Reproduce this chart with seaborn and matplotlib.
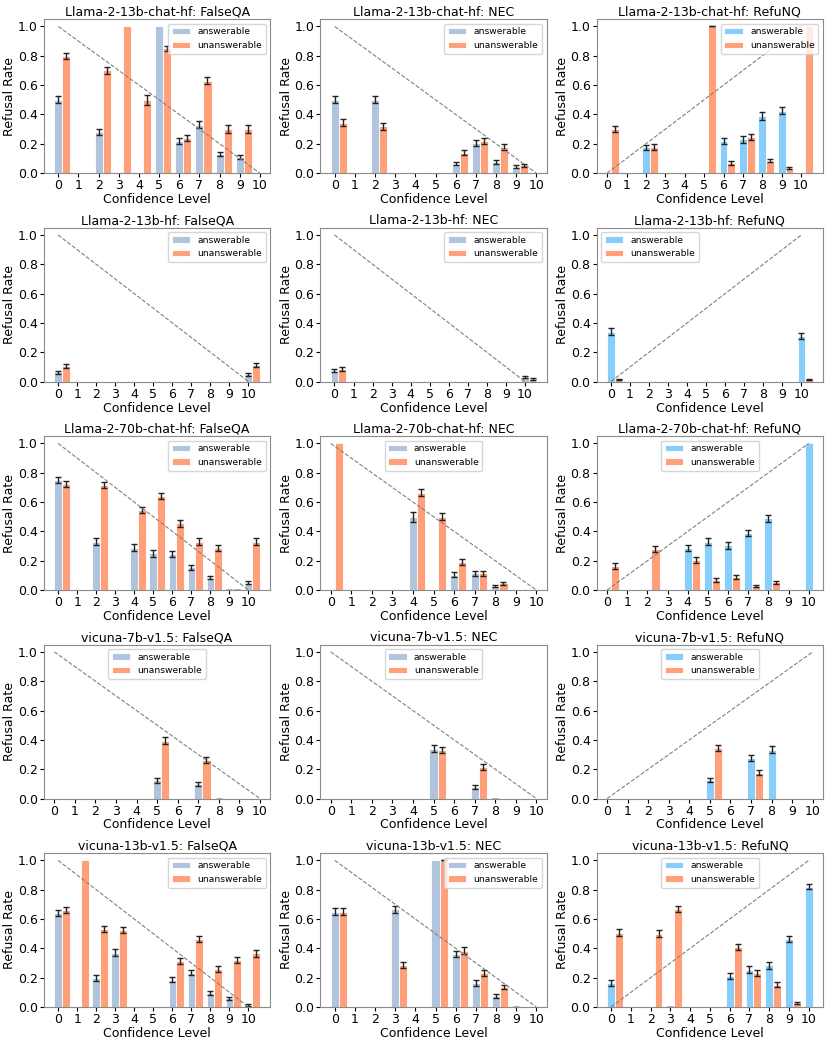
import numpy as np
import matplotlib
matplotlib.use("Agg")
import matplotlib.pyplot as plt
import seaborn as sns

# model rows and dataset columns
models = ["Llama-2-13b-chat-hf", "Llama-2-13b-hf", "Llama-2-70b-chat-hf",
          "vicuna-7b-v1.5", "vicuna-13b-v1.5"]
datasets = ["FalseQA", "NEC", "RefuNQ"]
levels = list(range(11))
rate_ticks = [0.0, 0.2, 0.4, 0.6, 0.8, 1.0]

# confidence level -> (refusal rate, error); error None = no error bar drawn
# Llama-2-13b-chat-hf
c13_fqa_ans = {0: (0.50, 0.025), 2: (0.28, 0.022), 5: (1.00, None), 6: (0.22, 0.022),
               7: (0.33, 0.025), 8: (0.13, 0.016), 9: (0.11, 0.015)}
c13_fqa_una = {0: (0.80, 0.020), 2: (0.70, 0.022), 3: (1.00, None), 4: (0.50, 0.035),
               5: (0.85, 0.018), 6: (0.24, 0.022), 7: (0.63, 0.022), 8: (0.30, 0.025),
               9: (0.30, 0.025)}
c13_nec_ans = {0: (0.50, 0.025), 2: (0.50, 0.025), 6: (0.065, 0.012), 7: (0.205, 0.018),
               8: (0.075, 0.012), 9: (0.045, 0.010)}
c13_nec_una = {0: (0.345, 0.025), 2: (0.32, 0.025), 6: (0.14, 0.018), 7: (0.22, 0.020),
               8: (0.18, 0.020), 9: (0.055, 0.010)}
c13_rnq_ans = {2: (0.175, 0.020), 6: (0.22, 0.022), 7: (0.23, 0.022), 8: (0.39, 0.025),
               9: (0.425, 0.025)}
c13_rnq_una = {0: (0.30, 0.022), 2: (0.18, 0.020), 5: (1.00, 0.0), 6: (0.07, 0.012),
               7: (0.245, 0.020), 8: (0.085, 0.012), 9: (0.033, 0.008), 10: (1.00, None)}

# Llama-2-13b-hf
b13_fqa_ans = {0: (0.062, 0.012), 10: (0.05, 0.010)}
b13_fqa_una = {0: (0.105, 0.015), 10: (0.112, 0.016)}
b13_nec_ans = {0: (0.075, 0.012), 10: (0.033, 0.008)}
b13_nec_una = {0: (0.085, 0.014), 10: (0.018, 0.006)}
b13_rnq_ans = {0: (0.34, 0.022), 10: (0.31, 0.022)}
b13_rnq_una = {0: (0.015, 0.005), 10: (0.015, 0.005)}

# Llama-2-70b-chat-hf
c70_fqa_ans = {0: (0.75, 0.022), 2: (0.33, 0.025), 4: (0.29, 0.022), 5: (0.25, 0.022),
               6: (0.245, 0.020), 7: (0.155, 0.018), 8: (0.085, 0.012), 9: (0.0, 0.0),
               10: (0.05, 0.010)}
c70_fqa_una = {0: (0.725, 0.022), 2: (0.715, 0.022), 4: (0.545, 0.022), 5: (0.64, 0.022),
               6: (0.455, 0.022), 7: (0.33, 0.022), 8: (0.285, 0.022), 9: (0.0, 0.0),
               10: (0.33, 0.025)}
c70_nec_ans = {4: (0.50, 0.035), 6: (0.105, 0.016), 7: (0.113, 0.016), 8: (0.027, 0.007)}
c70_nec_una = {0: (1.00, None), 4: (0.665, 0.025), 5: (0.50, 0.025), 6: (0.19, 0.020),
               7: (0.113, 0.016), 8: (0.045, 0.010)}
c70_rnq_ans = {4: (0.285, 0.022), 5: (0.33, 0.025), 6: (0.305, 0.022), 7: (0.39, 0.022),
               8: (0.49, 0.025), 10: (1.00, None)}
c70_rnq_una = {0: (0.165, 0.020), 2: (0.28, 0.022), 4: (0.205, 0.020), 5: (0.07, 0.012),
               6: (0.09, 0.012), 7: (0.03, 0.007), 8: (0.053, 0.010)}

# vicuna-7b-v1.5
v7_fqa_ans = {5: (0.125, 0.016), 7: (0.098, 0.014), 8: (0.0, 0.0)}
v7_fqa_una = {5: (0.395, 0.025), 7: (0.26, 0.020)}
v7_nec_ans = {5: (0.34, 0.022), 7: (0.08, 0.012), 8: (0.0, 0.0)}
v7_nec_una = {5: (0.33, 0.022), 7: (0.215, 0.020)}
v7_rnq_ans = {5: (0.125, 0.015), 7: (0.278, 0.022), 8: (0.332, 0.025)}
v7_rnq_una = {5: (0.345, 0.022), 7: (0.175, 0.018)}

# vicuna-13b-v1.5
v13_fqa_ans = {0: (0.64, 0.022), 2: (0.20, 0.020), 3: (0.37, 0.022), 6: (0.187, 0.020),
               7: (0.235, 0.020), 8: (0.097, 0.013), 9: (0.06, 0.010), 10: (0.016, 0.006)}
v13_fqa_una = {0: (0.66, 0.022), 1: (1.00, None), 2: (0.53, 0.022), 3: (0.525, 0.022),
               6: (0.315, 0.022), 7: (0.465, 0.022), 8: (0.26, 0.020), 9: (0.32, 0.020),
               10: (0.365, 0.022)}
v13_nec_ans = {0: (0.65, 0.022), 3: (0.665, 0.025), 5: (1.00, None), 6: (0.36, 0.022),
               7: (0.163, 0.018), 8: (0.075, 0.012), 9: (0.0, 0.0)}
v13_nec_una = {0: (0.65, 0.022), 3: (0.285, 0.022), 5: (1.00, 0.0), 6: (0.385, 0.022),
               7: (0.23, 0.020), 8: (0.137, 0.016)}
v13_rnq_ans = {0: (0.165, 0.020), 3: (0.0, 0.0), 6: (0.21, 0.020), 7: (0.255, 0.022),
               8: (0.283, 0.022), 9: (0.462, 0.022), 10: (0.82, 0.018)}
v13_rnq_una = {0: (0.507, 0.022), 2: (0.50, 0.025), 3: (0.667, 0.022), 6: (0.408, 0.022),
               7: (0.233, 0.020), 8: (0.153, 0.016), 9: (0.027, 0.007)}

panels = [
    [(c13_fqa_ans, c13_fqa_una), (c13_nec_ans, c13_nec_una), (c13_rnq_ans, c13_rnq_una)],
    [(b13_fqa_ans, b13_fqa_una), (b13_nec_ans, b13_nec_una), (b13_rnq_ans, b13_rnq_una)],
    [(c70_fqa_ans, c70_fqa_una), (c70_nec_ans, c70_nec_una), (c70_rnq_ans, c70_rnq_una)],
    [(v7_fqa_ans, v7_fqa_una), (v7_nec_ans, v7_nec_una), (v7_rnq_ans, v7_rnq_una)],
    [(v13_fqa_ans, v13_fqa_una), (v13_nec_ans, v13_nec_una), (v13_rnq_ans, v13_rnq_una)],
]

legend_locs = [
    ["upper right", "upper right", "upper right"],
    ["upper right", "upper right", "upper left"],
    ["upper right", "upper center", "upper center"],
    ["upper center", "upper center", "upper center"],
    ["upper right", "upper right", "upper center"],
]

plt.rcParams["font.family"] = ["DejaVu Sans"]
plt.rcParams["font.size"] = 9
plt.rcParams["axes.edgecolor"] = "#8a8a8a"

fig, axes = plt.subplots(5, 3, figsize=(8.3, 10.63), dpi=100)
fig.subplots_adjust(left=0.053, right=0.9916, top=0.982, bottom=0.0527,
                    wspace=0.222, hspace=0.354)

bar_w = 0.4


def draw_series(ax, series, offset, color, label):
    ks = sorted(series)
    xs = np.array(ks, dtype=float) + offset
    vals = [series[k][0] for k in ks]
    bars = ax.bar(xs, vals, width=bar_w, color=color, edgecolor="white",
                  linewidth=0.6, label=label)
    for x, k in zip(xs, ks):
        v, e = series[k]
        if e is not None:
            ax.errorbar(x, v, yerr=e, fmt="none", ecolor="#222222",
                        elinewidth=1.0, capsize=2.5, capthick=1.0)
    return bars


for r, model in enumerate(models):
    for c, dname in enumerate(datasets):
        ax = axes[r, c]
        ans, una = panels[r][c]
        ans_color = "#87CEFA" if dname == "RefuNQ" else "#B0C4DE"
        draw_series(ax, ans, 0.0, ans_color, "answerable")
        draw_series(ax, una, bar_w, "#FFA07A", "unanswerable")
        if dname == "RefuNQ":
            diag = [0, 1]
        else:
            diag = [1, 0]
        sns.lineplot(x=[0, 10], y=diag, ax=ax, color="gray",
                     linestyle="--", linewidth=0.8)
        ax.set_xticks(levels)
        ax.set_yticks(rate_ticks)
        ax.set_title(f"{model}: {dname}", fontsize=9, pad=2.5)
        ax.set_xlabel("Confidence Level", fontsize=9, labelpad=0.5)
        ax.set_ylabel("Refusal Rate", fontsize=9, labelpad=1)
        ax.tick_params(labelsize=9, length=3, pad=1.5)
        ax.legend(loc=legend_locs[r][c], fontsize=6.6)

fig.savefig("out.png", dpi=100)
